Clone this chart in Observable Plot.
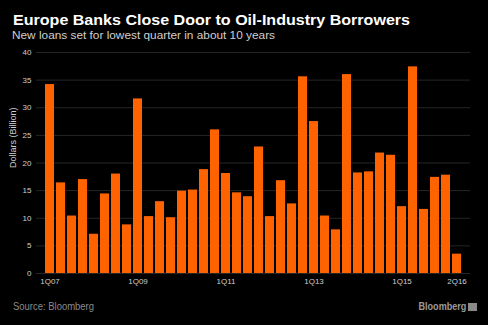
<!DOCTYPE html>
<html>
<head>
<meta charset="utf-8">
<script src="https://cdn.jsdelivr.net/npm/d3@7"></script>
<script src="https://cdn.jsdelivr.net/npm/@observablehq/plot@0.6"></script>
<style>
  html, body { margin: 0; padding: 0; background: #000; }
  #wrap { position: relative; width: 488px; height: 325px; background: #000; overflow: hidden; font-family: "Liberation Sans", Arial, sans-serif; }
  .t { position: absolute; white-space: nowrap; transform-origin: 0 0; }
  #title { left: 13px; top: 11px; font-size: 15.5px; font-weight: bold; color: #fff; }
  #subtitle { left: 12px; top: 29px; font-size: 11.5px; color: #cfcfcf; }
  #chart { position: absolute; left: 0; top: 45px; }
  #source { left: 13px; top: 301px; font-size: 10px; color: #8a8a8a; }
  #brand { right: 22px; top: 300px; font-size: 10.5px; font-weight: bold; color: #9a9a9a; transform-origin: 100% 0; }
  #icon { position: absolute; left: 468px; top: 303px; width: 9px; height: 8px; background: #8a8a8a; }
</style>
</head>
<body>
<div id="wrap">
  <div class="t" id="title">Europe Banks Close Door to Oil-Industry Borrowers</div>
  <div class="t" id="subtitle">New loans set for lowest quarter in about 10 years</div>
  <div id="chart"></div>
  <div class="t" id="source">Source: Bloomberg</div>
  <div class="t" id="brand">Bloomberg</div>
  <div id="icon"></div>
</div>
<script>
const quarters = [
  "1Q07","2Q07","3Q07","4Q07",
  "1Q08","2Q08","3Q08","4Q08",
  "1Q09","2Q09","3Q09","4Q09",
  "1Q10","2Q10","3Q10","4Q10",
  "1Q11","2Q11","3Q11","4Q11",
  "1Q12","2Q12","3Q12","4Q12",
  "1Q13","2Q13","3Q13","4Q13",
  "1Q14","2Q14","3Q14","4Q14",
  "1Q15","2Q15","3Q15","4Q15",
  "1Q16","2Q16"
];
const loans = [
  34.2, 16.4, 10.4, 17.0,
  7.1, 14.4, 18.0, 8.8,
  31.6, 10.3, 13.0, 10.1,
  14.9, 15.1, 18.8, 26.0,
  18.1, 14.6, 13.9, 22.9,
  10.3, 16.8, 12.6, 35.6,
  27.5, 10.4, 7.9, 36.0,
  18.2, 18.4, 21.8, 21.4,
  12.1, 37.4, 11.6, 17.4,
  17.8, 3.5
];
const xTickLabels = ["1Q07","1Q09","1Q11","1Q13","1Q15","2Q16"];
const yTicks = [0, 5, 10, 15, 20, 25, 30, 35, 40];

const data = quarters.map((q, i) => ({quarter: q, value: loans[i]}));

const chart = Plot.plot({
  width: 488,
  height: 250,
  marginTop: 7,
  marginBottom: 22,
  marginLeft: 36,
  marginRight: 18,
  style: {background: "#000", color: "#cfcfcf", fontFamily: "'Liberation Sans', Arial, sans-serif", fontSize: "8px"},
  x: {domain: quarters, padding: 0.2, label: null},
  y: {domain: [0, 40], label: null},
  marks: [
    Plot.gridY(yTicks, {stroke: "#262626", strokeOpacity: 1}),
    Plot.barY(data, {x: "quarter", y: "value", fill: "#ff6300"}),
    Plot.axisY(yTicks, {tickSize: 0, tickPadding: 5, fontSize: 8, fill: "#cfcfcf", label: null}),
    Plot.axisX(xTickLabels, {tickSize: 0, tickPadding: 5, fontSize: 8, fill: "#cfcfcf", label: null}),
    Plot.text(["Dollars (Billion)"], {frameAnchor: "left", dx: -23, dy: 5, rotate: -90, fontSize: 9, fill: "#cfcfcf"})
  ]
});
document.getElementById("chart").appendChild(chart);

function fit(id, target) {
  const el = document.getElementById(id);
  const w = el.getBoundingClientRect().width;
  if (w > 0) el.style.transform = `scaleX(${target / w})`;
}
fit("title", 397);
fit("subtitle", 263);
fit("source", 81);
fit("brand", 48);
</script>
</body>
</html>
